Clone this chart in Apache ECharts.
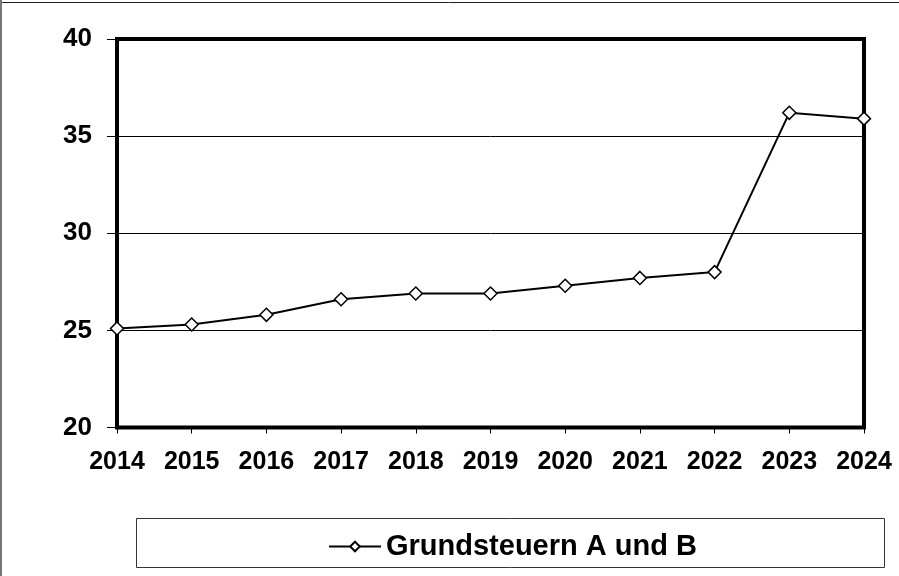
<!DOCTYPE html>
<html>
<head>
<meta charset="utf-8">
<script src="https://cdn.jsdelivr.net/npm/echarts@6/dist/echarts.min.js"></script>
<style>html,body{margin:0;padding:0;background:#fff}#c{width:899px;height:576px}</style>
</head>
<body>
<div id="c"></div>
<script>
const years = ['2014','2015','2016','2017','2018','2019','2020','2021','2022','2023','2024'];
const grundsteuern = [25.1, 25.3, 25.8, 26.6, 26.9, 26.9, 27.3, 27.7, 28.0, 36.2, 35.9];
const seriesName = 'Grundsteuern A und B';
const yTicks = [20, 25, 30, 35, 40];

const chart = echarts.init(document.getElementById('c'), null, {renderer: 'canvas'});
const font = '"Liberation Sans", Arial, sans-serif';
chart.setOption({
  animation: false,
  backgroundColor: '#fff',
  grid: {left: 117, right: 35, top: 39, bottom: 148.5, show: true, borderColor: '#000', borderWidth: 4, backgroundColor: 'transparent'},
  graphic: [
    {type: 'line', shape: {x1: 0, y1: 2.5, x2: 899, y2: 2.5}, style: {stroke: '#222', lineWidth: 1}, silent: true},
    {type: 'line', shape: {x1: 1, y1: 0, x2: 1, y2: 576}, style: {stroke: '#777', lineWidth: 2}, silent: true},
    {type: 'rect', shape: {x: 136.5, y: 518.5, width: 748, height: 49}, style: {fill: 'none', stroke: '#333', lineWidth: 1}, silent: true}
  ],
  legend: {
    data: [seriesName], left: 323, top: 527, itemWidth: 52, itemHeight: 12, itemGap: 0,
    textStyle: {fontFamily: font, fontWeight: 'bold', fontSize: 29, color: '#000', padding: [0, 0, 0, 0]}
  },
  xAxis: {
    type: 'category', data: years, boundaryGap: false,
    axisLine: {show: false},
    axisTick: {show: true, length: 6, interval: 0, alignWithLabel: true, lineStyle: {color: '#000', width: 1}},
    axisLabel: {interval: 0, hideOverlap: false, fontFamily: font, fontWeight: 'bold', fontSize: 25, color: '#000', margin: 22},
    splitLine: {show: false}
  },
  yAxis: {
    type: 'value', min: yTicks[0], max: yTicks[yTicks.length - 1], interval: 5,
    axisLine: {show: false},
    axisTick: {show: true, length: 10, lineStyle: {color: '#000', width: 1}},
    axisLabel: {fontFamily: font, fontWeight: 'bold', fontSize: 26, color: '#000', margin: 25},
    splitLine: {show: true, lineStyle: {color: '#000', width: 1}}
  },
  series: [{
    name: seriesName, type: 'line', data: grundsteuern,
    symbol: 'diamond', symbolSize: 13, showAllSymbol: true,
    lineStyle: {color: '#000', width: 2},
    itemStyle: {color: '#fff', borderColor: '#000', borderWidth: 1.5}
  }]
});
</script>
</body>
</html>
